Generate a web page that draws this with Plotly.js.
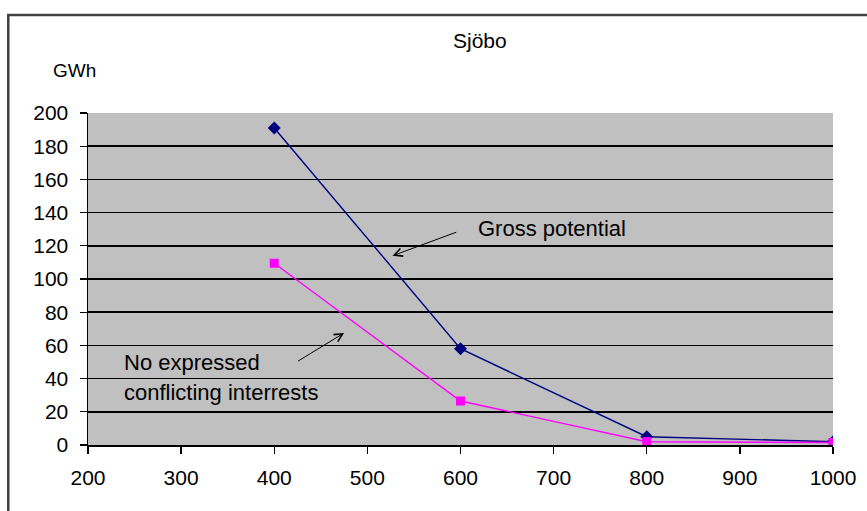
<!DOCTYPE html>
<html>
<head>
<meta charset="utf-8">
<script src="https://cdn.plot.ly/plotly-3.0.1.min.js"></script>
<style>html,body{margin:0;padding:0;background:#fff;}#chart{width:867px;height:511px;}</style>
</head>
<body>
<div id="chart"></div>
<script>
const xValues = [400, 600, 800, 1000];
const grossPotential = [191, 58, 5, 2];
const noConflict = [109.5, 26.5, 2, 1.5];
const yTicks = [0, 20, 40, 60, 80, 100, 120, 140, 160, 180, 200];
const xTicks = [200, 300, 400, 500, 600, 700, 800, 900, 1000];

const font = 'Arial, "Liberation Sans", sans-serif';

const traces = [
  {x: xValues, y: grossPotential, mode: 'lines+markers', name: 'Gross potential',
   line: {color: '#000080', width: 1.4}, marker: {symbol: 'diamond', size: 10, color: '#000080'}},
  {x: xValues, y: noConflict, mode: 'lines+markers', name: 'No expressed conflicting interrests',
   line: {color: '#FF00FF', width: 1.4}, marker: {symbol: 'square', size: 9, color: '#FF00FF'}}
];

const layout = {
  width: 867, height: 511,
  margin: {l: 88, r: 34, t: 113, b: 66},
  paper_bgcolor: '#ffffff', plot_bgcolor: '#C0C0C0',
  showlegend: false,
  font: {family: font, size: 21, color: '#000'},
  title: {text: 'Sjöbo', x: 0.526, xref: 'paper', xanchor: 'center', y: 0.92, yanchor: 'middle',
          font: {family: font, size: 21, color: '#000'}},
  xaxis: {range: [200, 1000], tickvals: xTicks, ticktext: xTicks.map(String),
          showgrid: false, zeroline: false, showline: true, linecolor: '#000', linewidth: 1.5,
          ticks: 'outside', ticklen: 7, tickcolor: '#000', tickwidth: 1.3, ticklabelstandoff: 6,
          tickfont: {family: font, size: 21, color: '#000'}, mirror: false},
  yaxis: {range: [0, 200], tickvals: yTicks, ticktext: yTicks.map(String),
          showgrid: true, gridcolor: '#000', gridwidth: 1.5, zeroline: false,
          showline: true, linecolor: '#000', linewidth: 1.5,
          ticks: 'outside', ticklen: 7, tickcolor: '#000', tickwidth: 1.3, ticklabelstandoff: 7,
          tickfont: {family: font, size: 21, color: '#000'}},
  shapes: [
    {type: 'rect', xref: 'paper', yref: 'paper', x0: -0.107, x1: 1.2, y0: -0.4, y1: 1.295,
     line: {color: '#404040', width: 2.5}, fillcolor: 'rgba(0,0,0,0)', layer: 'below'}
  ],
  annotations: [
    {text: 'GWh', xref: 'paper', yref: 'paper', x: -0.05, y: 1.127, xanchor: 'left', yanchor: 'middle',
     showarrow: false, font: {family: font, size: 19, color: '#000'}},
    {text: 'Gross potential', xref: 'x', yref: 'y', x: 617, y: 130.5, xanchor: 'left', yanchor: 'middle',
     showarrow: false, font: {family: font, size: 22, color: '#000'}},
    {text: 'No expressed', xref: 'x', yref: 'y', x: 237, y: 49.5, xanchor: 'left', yanchor: 'middle',
     showarrow: false, font: {family: font, size: 22, color: '#000'}},
    {text: 'conflicting interrests', xref: 'x', yref: 'y', x: 237, y: 31.5, xanchor: 'left', yanchor: 'middle',
     showarrow: false, font: {family: font, size: 22, color: '#000'}},
    {text: '', xref: 'x', yref: 'y', axref: 'x', ayref: 'y', x: 527, y: 114, ax: 597, ay: 128.5,
     showarrow: true, arrowhead: 5, arrowsize: 1.6, arrowwidth: 1, arrowcolor: '#000'},
    {text: '', xref: 'x', yref: 'y', axref: 'x', ayref: 'y', x: 475, y: 67.5, ax: 424, ay: 50,
     showarrow: true, arrowhead: 5, arrowsize: 1.6, arrowwidth: 1, arrowcolor: '#000'}
  ]
};

Plotly.newPlot('chart', traces, layout, {displayModeBar: false, staticPlot: true});
</script>
</body>
</html>
